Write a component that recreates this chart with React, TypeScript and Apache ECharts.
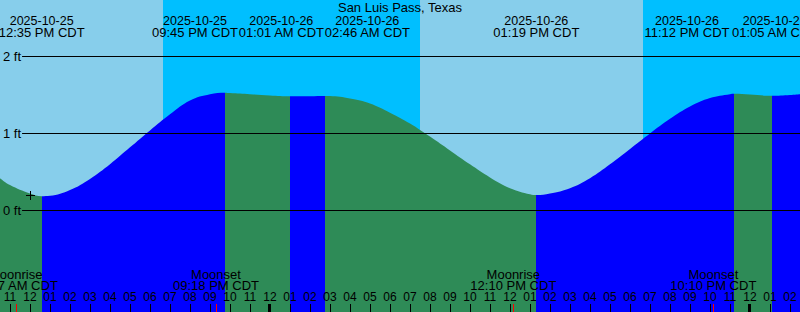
import React, { useEffect, useRef } from "react";
import * as echarts from "echarts";

// ---------------- data ----------------
const chartTitle = "San Luis Pass, Texas";
const refDate = "2025-10-26"; // hour 0 of the time axis (midnight, CDT)
const axisStart = { date: "2025-10-25", time: "10:30 AM" };
const axisEnd = { date: "2025-10-27", time: "02:30 AM" };

// tide height (ft), hours relative to refDate midnight
const tideHours = [
  -13.5, -13, -12, -11.42, -11, -10, -9, -8, -7, -6, -5, -4, -3, -2.25, -2, -1, 0,
  1.02, 2, 2.77, 3, 4, 5, 6, 7, 8, 9, 10, 11, 12, 13, 13.32, 14, 15, 16, 17, 18,
  19, 20, 21, 22, 23, 23.2, 24, 25.08, 26, 26.5,
];
const tideLevels = [
  0.42, 0.33, 0.22, 0.185, 0.19, 0.265, 0.41, 0.6, 0.82, 1.04, 1.25, 1.43, 1.51, 1.53, 1.525, 1.51, 1.495,
  1.483, 1.485, 1.488, 1.487, 1.455, 1.39, 1.27, 1.13, 0.96, 0.78, 0.6, 0.43, 0.29, 0.21, 0.2, 0.22, 0.29, 0.42, 0.6, 0.8,
  1.0, 1.19, 1.35, 1.46, 1.51, 1.515, 1.505, 1.49, 1.5, 1.51,
];

const eventDates = ["2025-10-25", "2025-10-25", "2025-10-26", "2025-10-26", "2025-10-26", "2025-10-26", "2025-10-27"];
const eventTimes = ["12:35 PM CDT", "09:45 PM CDT", "01:01 AM CDT", "02:46 AM CDT", "01:19 PM CDT", "11:12 PM CDT", "01:05 AM CDT"];
const eventKinds = ["low", "high", "low", "high", "low", "high", "low"];

const moonEvents = ["Moonrise", "Moonset", "Moonrise", "Moonset"];
const moonDates = ["2025-10-25", "2025-10-25", "2025-10-26", "2025-10-26"];
const moonTimes = ["11:17 AM CDT", "09:18 PM CDT", "12:10 PM CDT", "10:10 PM CDT"];

const sunsetDates = ["2025-10-25", "2025-10-26"];
const sunsetTimes = ["06:39 PM", "06:39 PM"];
const sunriseDates = ["2025-10-26", "2025-10-27"];
const sunriseTimes = ["07:30 AM", "07:31 AM"];

const levelTicks = [0, 1, 2];
const markDate = "2025-10-25";
const markTime = "12:00 PM";
const markLevel = 0.2;

// ---------------- layout / style ----------------
const FONT = "'Liberation Sans', Arial, sans-serif";
const SKY = "#87CEEB";
const NIGHT = "#00BFFF";
const RISING = "#0000FF";
const FALLING = "#2E8B57";
const PX_PER_FT = 77;
const Y_OF_TOP_LINE = 56.5; // pixel of the 2 ft line
const CHART_H = 312;
const eventLabelShift = [0, -30, -9, 42, 0, -47, 3];

function toHours(date: string, time: string): number {
  const [y, m, d] = date.split("-").map(Number);
  const [ry, rm, rd] = refDate.split("-").map(Number);
  const days = (Date.UTC(y, m - 1, d) - Date.UTC(ry, rm - 1, rd)) / 864e5;
  const mt = time.match(/(\d+):(\d+)\s*(AM|PM)/)!;
  const hh = (Number(mt[1]) % 12) + (mt[3] === "PM" ? 12 : 0);
  return days * 24 + hh + Number(mt[2]) / 60;
}

export default function App() {
  const ref = useRef<HTMLDivElement>(null);
  useEffect(() => {
    if (!ref.current) return;
    const chart = echarts.init(ref.current, null, { renderer: "svg" });

    const xMin = toHours(axisStart.date, axisStart.time);
    const xMax = toHours(axisEnd.date, axisEnd.time);
    const yMax = levelTicks[levelTicks.length - 1] + Y_OF_TOP_LINE / PX_PER_FT;
    const yMin = yMax - CHART_H / PX_PER_FT;

    const hourTicks: number[] = [];
    for (let h = Math.ceil(xMin); h <= Math.floor(xMax); h++) hourTicks.push(h);
    const midnights = hourTicks.filter((h) => h % 24 === 0);

    const evHours = eventDates.map((d, i) => toHours(d, eventTimes[i]));
    const moonHours = moonDates.map((d, i) => toHours(d, moonTimes[i]));
    const nights = sunsetDates.map((d, i) => [toHours(d, sunsetTimes[i]), toHours(sunriseDates[i], sunriseTimes[i])]);

    const pieces: any[] = [];
    evHours.forEach((h, i) => {
      const color = eventKinds[i] === "low" ? FALLING : RISING;
      if (i === 0) pieces.push({ lt: h, color });
      else pieces.push({ gte: evHours[i - 1], lt: h, color });
    });
    pieces.push({ gte: evHours[evHours.length - 1], color: eventKinds[eventKinds.length - 1] === "low" ? RISING : FALLING });

    const textStyle = (text: string, size: number) => ({
      text,
      fill: "#000",
      fontSize: size,
      fontFamily: FONT,
      lineHeight: 11,
      align: "center",
      verticalAlign: "middle",
    });

    const option: any = {
      animation: false,
      backgroundColor: SKY,
      title: {
        text: chartTitle,
        left: "center",
        top: 1,
        padding: 0,
        textStyle: { fontSize: 13, fontWeight: "normal", color: "#000", fontFamily: FONT },
      },
      grid: [
        { left: 0, right: 0, top: 0, bottom: 0 },
        { left: 21, right: 0, top: 0, bottom: 0 },
      ],
      xAxis: [
        {
          type: "value",
          gridIndex: 0,
          position: "bottom",
          min: xMin,
          max: xMax,
          axisLine: { show: false, onZero: false },
          splitLine: { show: false },
          axisTick: { show: true, inside: true, length: 8, customValues: hourTicks, lineStyle: { color: "#000", width: 1 } },
          axisLabel: {
            show: true,
            inside: true,
            margin: 10,
            lineHeight: 10,
            customValues: hourTicks,
            color: "#000",
            fontSize: 12,
            fontFamily: FONT,
            formatter: (v: number) => {
              const h = ((Math.round(v) % 12) + 12) % 12;
              return String(h === 0 ? 12 : h).padStart(2, "0");
            },
          },
          z: 6,
        },
        {
          type: "value",
          gridIndex: 1,
          position: "bottom",
          min: xMin,
          max: xMax,
          axisLine: { show: false, onZero: false },
          axisTick: { show: false },
          axisLabel: { show: false },
          splitLine: { show: false },
        },
      ],
      yAxis: [
        {
          type: "value",
          gridIndex: 0,
          min: yMin,
          max: yMax,
          axisLine: { show: false, onZero: false },
          axisTick: { show: false },
          axisLabel: { show: false },
          splitLine: { show: false },
        },
        {
          type: "value",
          gridIndex: 1,
          position: "left",
          min: yMin,
          max: yMax,
          axisLine: { show: false, onZero: false },
          axisTick: { show: false },
          splitLine: { show: false },
          axisLabel: {
            customValues: levelTicks,
            margin: 1,
            color: "#000",
            fontSize: 13,
            fontFamily: FONT,
            formatter: (v: number) => `${v} ft`,
          },
          z: 6,
        },
      ],
      visualMap: { type: "piecewise", show: false, dimension: 0, seriesIndex: 1, pieces },
      series: [
        {
          type: "custom",
          name: "night",
          xAxisIndex: 0,
          yAxisIndex: 0,
          z: 1,
          silent: true,
          data: nights,
          encode: { x: [0, 1] },
          renderItem: (params: any, api: any) => {
            const cs = params.coordSys;
            const x0 = api.coord([api.value(0), yMax])[0];
            const x1 = api.coord([api.value(1), yMax])[0];
            return { type: "rect", shape: { x: x0, y: cs.y, width: x1 - x0, height: cs.height }, style: { fill: NIGHT } };
          },
        },
        {
          type: "line",
          name: "tide",
          xAxisIndex: 0,
          yAxisIndex: 0,
          z: 2,
          silent: true,
          smooth: 0.4,
          showSymbol: false,
          symbol: "none",
          lineStyle: { width: 0 },
          areaStyle: { opacity: 1, origin: "start" },
          data: tideHours.map((h, i) => [h, tideLevels[i]]),
        },
        {
          type: "custom",
          name: "levels",
          xAxisIndex: 1,
          yAxisIndex: 1,
          z: 3,
          silent: true,
          data: levelTicks.map((v) => [xMin, v]),
          encode: { x: 0, y: 1 },
          renderItem: (params: any, api: any) => {
            const cs = params.coordSys;
            const y = api.coord([xMin, api.value(1)])[1];
            return {
              type: "line",
              shape: { x1: cs.x, y1: y, x2: cs.x + cs.width, y2: y },
              style: { stroke: "#000", lineWidth: 1 },
            };
          },
        },
        {
          type: "custom",
          name: "specialTicks",
          xAxisIndex: 0,
          yAxisIndex: 0,
          z: 5,
          silent: true,
          data: [...midnights.map((h) => [h, 1]), ...moonHours.map((h) => [h, 0])],
          encode: { x: 0 },
          renderItem: (params: any, api: any) => {
            const p = api.coord([api.value(0), yMin]);
            const thick = api.value(1) === 1;
            const w = thick ? 3 : 1;
            const x = thick ? Math.round(p[0]) - 2 : Math.round(p[0]);
            return { type: "rect", shape: { x, y: p[1] - 8, width: w, height: 8 }, style: { fill: thick ? "#000" : "#ff0000" } };
          },
        },
        {
          type: "custom",
          name: "moonLabels",
          xAxisIndex: 0,
          yAxisIndex: 0,
          z: 5,
          silent: true,
          data: moonHours.map((h) => [h, 0]),
          encode: { x: 0 },
          renderItem: (params: any, api: any) => {
            const i = params.dataIndex;
            const p = api.coord([api.value(0), yMin]);
            return {
              type: "group",
              children: [
                { type: "text", x: p[0], y: p[1] - 38, style: textStyle(moonEvents[i], 13) },
                { type: "text", x: p[0], y: p[1] - 26.5, style: textStyle(moonTimes[i], 13) },
              ],
            };
          },
        },
        {
          type: "custom",
          name: "eventLabels",
          xAxisIndex: 0,
          yAxisIndex: 0,
          z: 5,
          silent: true,
          data: evHours.map((h) => [h, 0]),
          encode: { x: 0 },
          renderItem: (params: any, api: any) => {
            const i = params.dataIndex;
            const cs = params.coordSys;
            const x = api.coord([api.value(0), yMax])[0] + eventLabelShift[i];
            return {
              type: "group",
              children: [
                { type: "text", x, y: cs.y + 20.5, style: textStyle(eventDates[i], 12.5) },
                { type: "text", x, y: cs.y + 32.2, style: textStyle(eventTimes[i], 13) },
              ],
            };
          },
        },
        {
          type: "custom",
          name: "mark",
          xAxisIndex: 0,
          yAxisIndex: 0,
          z: 6,
          silent: true,
          data: [[toHours(markDate, markTime), markLevel]],
          encode: { x: 0, y: 1 },
          renderItem: (params: any, api: any) => {
            const p = api.coord([api.value(0), api.value(1)]);
            const cx = Math.floor(p[0]) + 0.5;
            const cy = Math.floor(p[1]) + 0.5;
            const st = { stroke: "#000", lineWidth: 1 };
            return {
              type: "group",
              children: [
                { type: "line", shape: { x1: cx - 4.5, y1: cy, x2: cx + 4.5, y2: cy }, style: st },
                { type: "line", shape: { x1: cx, y1: cy - 4.5, x2: cx, y2: cy + 4.5 }, style: st },
              ],
            };
          },
        },
      ],
    };

    chart.setOption(option);
    return () => chart.dispose();
  }, []);

  return <div ref={ref} style={{ position: "fixed", left: 0, top: 0, width: 800, height: 312 }} />;
}
